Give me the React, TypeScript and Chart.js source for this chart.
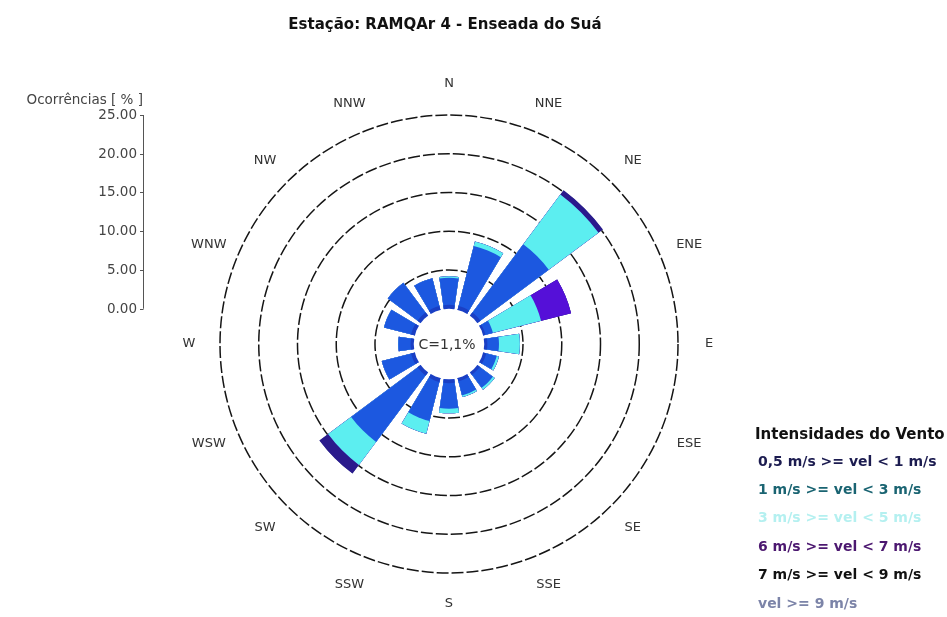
import React, { useEffect, useRef } from 'react';
import { Chart, registerables } from 'chart.js';

Chart.register(...registerables);

// ---------- data ----------
const TITLE = 'Estação: RAMQAr 4 - Enseada do Suá';
const DIRECTIONS = ['N', 'NNE', 'NE', 'ENE', 'E', 'ESE', 'SE', 'SSE', 'S', 'SSW', 'SW', 'WSW', 'W', 'WNW', 'NW', 'NNW'];
const SPEED_CLASSES = [
  '0,5 m/s >= vel < 1 m/s',
  '1 m/s >= vel < 3 m/s',
  '3 m/s >= vel < 5 m/s',
  '6 m/s >= vel < 7 m/s',
  '7 m/s >= vel < 9 m/s',
  'vel >= 9 m/s',
];
// occurrences (%) per direction, N -> NNW
const VEL_05_1 = [0.5, 0.5, 0.5, 0.3, 0.4, 0.4, 0.4, 0.4, 0.5, 0.5, 0.5, 0.5, 0.4, 0.5, 0.5, 0.5];
const VEL_1_3 = [3.5, 8.0, 11.0, 1.0, 1.5, 1.4, 2.1, 1.9, 3.3, 5.2, 10.7, 3.9, 1.6, 3.6, 4.8, 3.7];
const VEL_3_5 = [0.2, 0.6, 8.0, 6.4, 2.7, 0.3, 0.3, 0.2, 0.6, 1.7, 3.7, 0, 0, 0, 0, 0];
const VEL_6_7 = [0, 0, 0, 4.0, 0, 0, 0, 0, 0, 0, 0, 0, 0, 0, 0, 0];
const VEL_7_9 = [0, 0, 0.7, 0, 0, 0, 0, 0, 0, 0, 1.4, 0, 0, 0, 0, 0];
const VEL_9 = [0, 0, 0, 0, 0, 0, 0, 0, 0, 0, 0, 0, 0, 0, 0, 0];
const CALM_LABEL = 'C=1,1%';
const AXIS_TITLE = 'Ocorrências [ % ]';
const AXIS_TICKS = [0, 5, 10, 15, 20, 25];
const RING_VALUES = [0, 5, 10, 15, 20, 25];
const LEGEND_TITLE = 'Intensidades do Vento';

// ---------- styles ----------
const BAR_COLORS = ['#1a3fc4', '#1c58e0', '#5ceef0', '#5510d8', '#2a1a8c', '#7080b0'];
const LEGEND_TEXT_COLORS = ['#1c1c50', '#1a6472', '#b4f0f0', '#4c1870', '#111111', '#7c84a8'];
const HOLE_MIN = -4.55;
const R_MAX = 25;
const BAR_FILL = 0.74;
const FONT = '"DejaVu Sans", sans-serif';

const SERIES = [VEL_05_1, VEL_1_3, VEL_3_5, VEL_6_7, VEL_7_9, VEL_9];

const decorPlugin = {
  id: 'windroseDecor',
  afterDatasetsUpdate(chart: any) {
    chart.data.datasets.forEach((_: any, di: number) => {
      chart.getDatasetMeta(di).data.forEach((arc: any) => {
        const mid = (arc.startAngle + arc.endAngle) / 2;
        const half = ((arc.endAngle - arc.startAngle) * BAR_FILL) / 2;
        arc.startAngle = mid - half;
        arc.endAngle = mid + half;
      });
    });
  },
  afterDatasetsDraw(chart: any) {
    const s = chart.scales.r;
    const ctx = chart.ctx;
    const hole = s.getDistanceFromCenterForValue(0);
    ctx.save();
    ctx.beginPath();
    ctx.arc(s.xCenter, s.yCenter, hole, 0, Math.PI * 2);
    ctx.fillStyle = '#ffffff';
    ctx.fill();
    ctx.fillStyle = '#333';
    ctx.font = `14px ${FONT}`;
    ctx.textAlign = 'center';
    ctx.textBaseline = 'middle';
    ctx.fillText(CALM_LABEL, s.xCenter - 2, s.yCenter + 1);
    ctx.restore();
  },
  afterDraw(chart: any) {
    const s = chart.scales.r;
    const ctx = chart.ctx;
    ctx.save();
    // title
    ctx.fillStyle = '#111';
    ctx.font = `bold 15px ${FONT}`;
    ctx.textAlign = 'center';
    ctx.textBaseline = 'middle';
    ctx.fillText(TITLE, 445, 25);

    // compass labels
    ctx.font = `13px ${FONT}`;
    ctx.fillStyle = '#333';
    const dist = s.getDistanceFromCenterForValue(R_MAX) + 31;
    DIRECTIONS.forEach((d, i) => {
      const a = (i * 2 * Math.PI) / DIRECTIONS.length;
      const x = s.xCenter + dist * Math.sin(a);
      const y = s.yCenter - dist * Math.cos(a);
      ctx.fillText(d, x, y);
    });

    // left radial axis
    const ax = 143;
    const yOf = (v: number) => s.yCenter - s.getDistanceFromCenterForValue(v);
    ctx.strokeStyle = '#555';
    ctx.lineWidth = 1;
    ctx.beginPath();
    ctx.moveTo(ax + 0.5, yOf(AXIS_TICKS[0]));
    ctx.lineTo(ax + 0.5, yOf(AXIS_TICKS[AXIS_TICKS.length - 1]));
    ctx.stroke();
    ctx.font = `13.5px ${FONT}`;
    ctx.fillStyle = '#444';
    ctx.textAlign = 'right';
    AXIS_TICKS.forEach((v) => {
      const y = Math.round(yOf(v)) + 0.5;
      ctx.beginPath();
      ctx.moveTo(ax - 3, y);
      ctx.lineTo(ax + 0.5, y);
      ctx.stroke();
      ctx.fillText(v.toFixed(2), ax - 6, y);
    });
    ctx.fillText(AXIS_TITLE, ax, 100);

    // legend
    ctx.textAlign = 'left';
    ctx.fillStyle = '#111';
    ctx.font = `bold 15px ${FONT}`;
    ctx.fillText(LEGEND_TITLE, 755, 435);
    ctx.font = `bold 14px ${FONT}`;
    SPEED_CLASSES.forEach((t, i) => {
      ctx.fillStyle = LEGEND_TEXT_COLORS[i];
      ctx.fillText(t, 758, 462 + i * 28.4);
    });
    ctx.restore();
  },
};

export default function App() {
  const ref = useRef<HTMLCanvasElement>(null);
  useEffect(() => {
    const cumulative: number[][] = [];
    SERIES.forEach((arr, k) => {
      cumulative.push(arr.map((v, i) => (k === 0 ? v : cumulative[k - 1][i] + v)));
    });
    const chart = new Chart(ref.current as HTMLCanvasElement, {
      type: 'polarArea',
      data: {
        labels: DIRECTIONS,
        datasets: SPEED_CLASSES.map((label, k) => ({
          label,
          data: cumulative[k],
          backgroundColor: BAR_COLORS[k],
          borderWidth: 0,
        })),
      },
      options: {
        responsive: false,
        animation: false,
        devicePixelRatio: 1,
        layout: { padding: { left: 220, right: 269, top: 115, bottom: 44 } },
        plugins: {
          legend: { display: false },
          title: { display: false },
          tooltip: { enabled: false },
        },
        scales: {
          r: {
            min: HOLE_MIN,
            max: R_MAX,
            startAngle: -360 / DIRECTIONS.length / 2,
            ticks: { display: false },
            afterBuildTicks: (scale: any) => {
              scale.ticks = RING_VALUES.map((v) => ({ value: v }));
            },
            grid: {
              circular: true,
              color: (c: any) => (c.tick && c.tick.value === 0 ? 'rgba(0,0,0,0)' : '#151515'),
              lineWidth: 1.5,
            },
            border: { dash: [12, 3] },
            angleLines: { display: false },
            pointLabels: { display: false },
          },
        },
      },
      plugins: [decorPlugin],
    } as any);
    return () => chart.destroy();
  }, []);
  return (
    <div style={{ position: 'absolute', left: 0, top: 0, width: 947, height: 617, background: '#fff' }}>
      <canvas ref={ref} width={947} height={617} style={{ display: 'block' }} />
    </div>
  );
}
